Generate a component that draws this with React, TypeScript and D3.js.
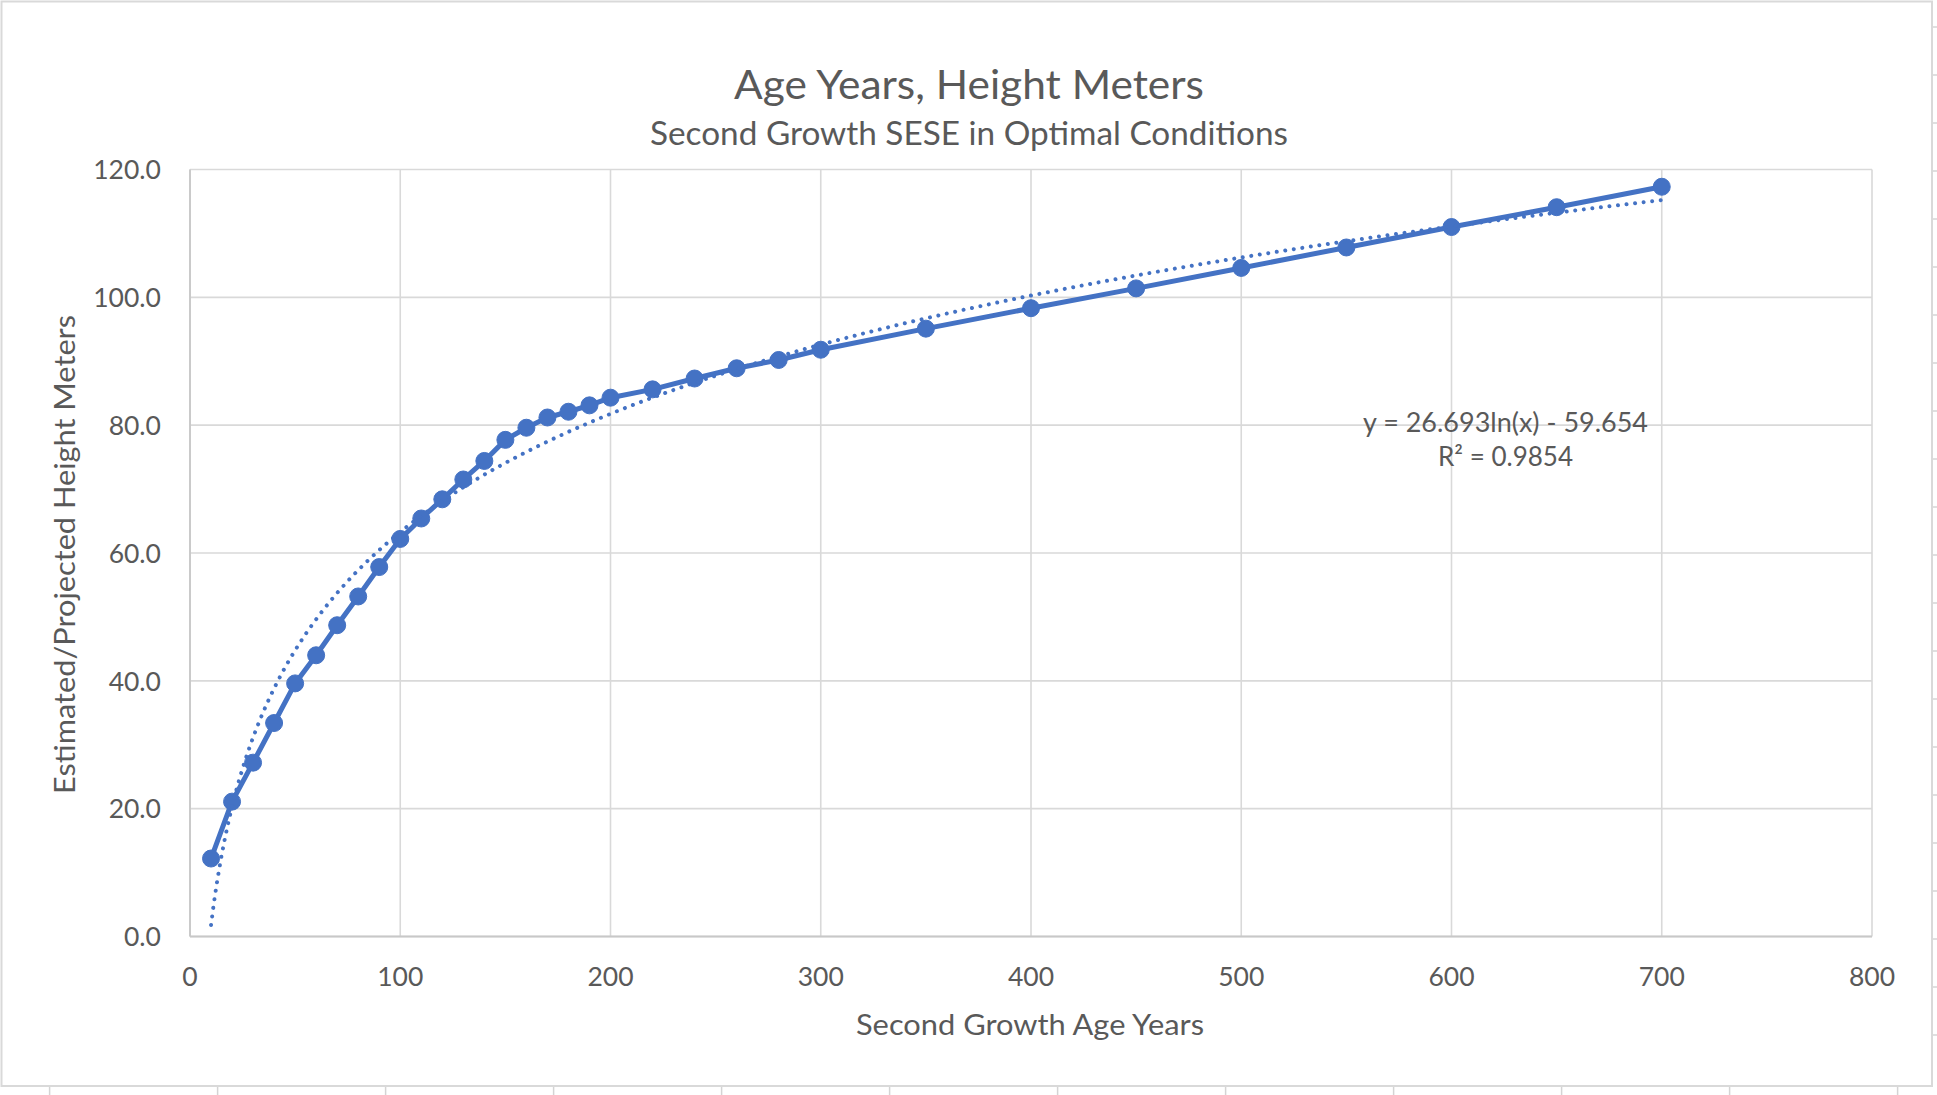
import React, { useEffect } from "react";
import * as d3 from "d3";

// ---------- data ----------
const ages: number[] = [
  10, 20, 30, 40, 50, 60, 70, 80, 90, 100, 110, 120, 130, 140, 150, 160, 170, 180, 190, 200,
  220, 240, 260, 280, 300, 350, 400, 450, 500, 550, 600, 650, 700,
];
const heights: number[] = [
  12.2, 21.1, 27.2, 33.4, 39.6, 44.0, 48.7, 53.2, 57.8, 62.2, 65.4, 68.4, 71.5, 74.4, 77.7, 79.6,
  81.2, 82.1, 83.1, 84.3, 85.6, 87.3, 88.9, 90.2, 91.8, 95.1, 98.3, 101.4, 104.6, 107.8, 111.0,
  114.1, 117.3,
];
const xTicks: number[] = [0, 100, 200, 300, 400, 500, 600, 700, 800];
const yTicks: number[] = [0, 20, 40, 60, 80, 100, 120];

// logarithmic trendline as printed on the chart
const trendA = 26.693;
const trendB = -59.654;
const trendR2 = 0.9854;

const titleText = "Age Years, Height Meters";
const subtitleText = "Second Growth SESE in Optimal Conditions";
const xTitleText = "Second Growth Age Years";
const yTitleText = "Estimated/Projected Height Meters";
const eqText = `y = ${trendA}ln(x) - ${Math.abs(trendB)}`;
const r2Text = `R² = ${trendR2}`;

// ---------- layout ----------
const W = 1937;
const H = 1095;
const plot = { left: 190, right: 1872, top: 169.5, bottom: 936.5 };
const FONT = "Lato, 'Open Sans', 'DejaVu Sans', sans-serif";
const TEXT = "#595959";
const GRID = "#D9D9D9";
const BLUE = "#4472C4";

export default function App() {
  useEffect(() => {
    document.body.style.margin = "0";
  }, []);

  const x = d3.scaleLinear().domain([0, 800]).range([plot.left, plot.right]);
  const y = d3.scaleLinear().domain([0, 120]).range([plot.bottom, plot.top]);

  const pts: [number, number][] = ages.map((a, i) => [a, heights[i]]);
  const line = d3
    .line<[number, number]>()
    .x((d) => x(d[0]))
    .y((d) => y(d[1]));

  const trendXs = d3.range(ages[0], ages[ages.length - 1] + 0.001, 1);
  const trendPts: [number, number][] = trendXs.map((v) => [v, trendA * Math.log(v) + trendB]);

  // spreadsheet cell lines visible outside the chart frame
  const cellCols = d3.range(49.6, W, 168);
  const cellRows = d3.range(939, -1, -48).concat([987, 1035]);

  return (
    <svg
      width={W}
      height={H}
      viewBox={`0 0 ${W} ${H}`}
      style={{ display: "block", position: "absolute", left: 0, top: 0, background: "#fff" }}
    >
      <rect x={0} y={0} width={W} height={H} fill="#fff" />
      {cellCols.map((cx, i) => (
        <line key={"cc" + i} x1={cx} x2={cx} y1={1087} y2={H} stroke="#D4D4D4" strokeWidth={1.5} />
      ))}
      {cellRows.map((cy, i) => (
        <line key={"cr" + i} x1={1933} x2={W} y1={cy} y2={cy} stroke="#D4D4D4" strokeWidth={1.5} />
      ))}
      {/* chart frame */}
      <rect x={1.5} y={1.5} width={1930.5} height={1084.5} fill="#fff" stroke={GRID} strokeWidth={2} />

      {/* gridlines */}
      {yTicks.map((t) => (
        <line key={"gy" + t} x1={plot.left} x2={plot.right} y1={y(t)} y2={y(t)} stroke={GRID} strokeWidth={1.6} />
      ))}
      {xTicks.map((t) => (
        <line key={"gx" + t} x1={x(t)} x2={x(t)} y1={plot.top} y2={plot.bottom} stroke={GRID} strokeWidth={1.6} />
      ))}
      <line x1={plot.left} x2={plot.right} y1={y(0)} y2={y(0)} stroke="#C8C8C8" strokeWidth={1.8} />
      <line x1={x(0)} x2={x(0)} y1={plot.top} y2={plot.bottom} stroke="#C8C8C8" strokeWidth={1.8} />

      {/* tick labels */}
      {yTicks.map((t) => (
        <text
          key={"ty" + t}
          x={161}
          y={y(t) + 9.8}
          textAnchor="end"
          fontFamily={FONT}
          fontSize={26.5}
          fill={TEXT}
        >
          {t.toFixed(1)}
        </text>
      ))}
      {xTicks.map((t) => (
        <text
          key={"tx" + t}
          x={x(t)}
          y={986}
          textAnchor="middle"
          fontFamily={FONT}
          fontSize={26.5}
          fill={TEXT}
        >
          {t}
        </text>
      ))}

      {/* series */}
      <path d={line(pts) || ""} fill="none" stroke={BLUE} strokeWidth={5} strokeLinejoin="round" />
      {pts.map((p, i) => (
        <circle key={"m" + i} cx={x(p[0])} cy={y(p[1])} r={8.5} fill={BLUE} stroke={BLUE} strokeWidth={1} />
      ))}

      {/* trendline */}
      <path
        d={line(trendPts) || ""}
        fill="none"
        stroke={BLUE}
        strokeWidth={4}
        strokeDasharray="0.01 8.6"
        strokeLinecap="round"
      />

      {/* trendline label */}
      <text x={1505.5} y={432} textAnchor="middle" fontFamily={FONT} fontSize={26} fill={TEXT}
        textLength={285} lengthAdjust="spacingAndGlyphs">
        {eqText}
      </text>
      <text x={1505.5} y={466} textAnchor="middle" fontFamily={FONT} fontSize={26} fill={TEXT}
        textLength={135} lengthAdjust="spacingAndGlyphs">
        {r2Text}
      </text>

      {/* titles */}
      <text x={969} y={98.5} textAnchor="middle" fontFamily={FONT} fontSize={40} fill={TEXT}
        textLength={470} lengthAdjust="spacingAndGlyphs">
        {titleText}
      </text>
      <text x={969} y={145} textAnchor="middle" fontFamily={FONT} fontSize={32.5} fill={TEXT}
        textLength={638} lengthAdjust="spacingAndGlyphs">
        {subtitleText}
      </text>
      <text x={1030} y={1035} textAnchor="middle" fontFamily={FONT} fontSize={29} fill={TEXT}
        textLength={348} lengthAdjust="spacingAndGlyphs">
        {xTitleText}
      </text>
      <text
        transform={`translate(74.5, ${(315 + 794) / 2}) rotate(-90)`}
        textAnchor="middle"
        fontFamily={FONT}
        fontSize={29}
        fill={TEXT}
        textLength={479}
        lengthAdjust="spacingAndGlyphs"
      >
        {yTitleText}
      </text>
    </svg>
  );
}
